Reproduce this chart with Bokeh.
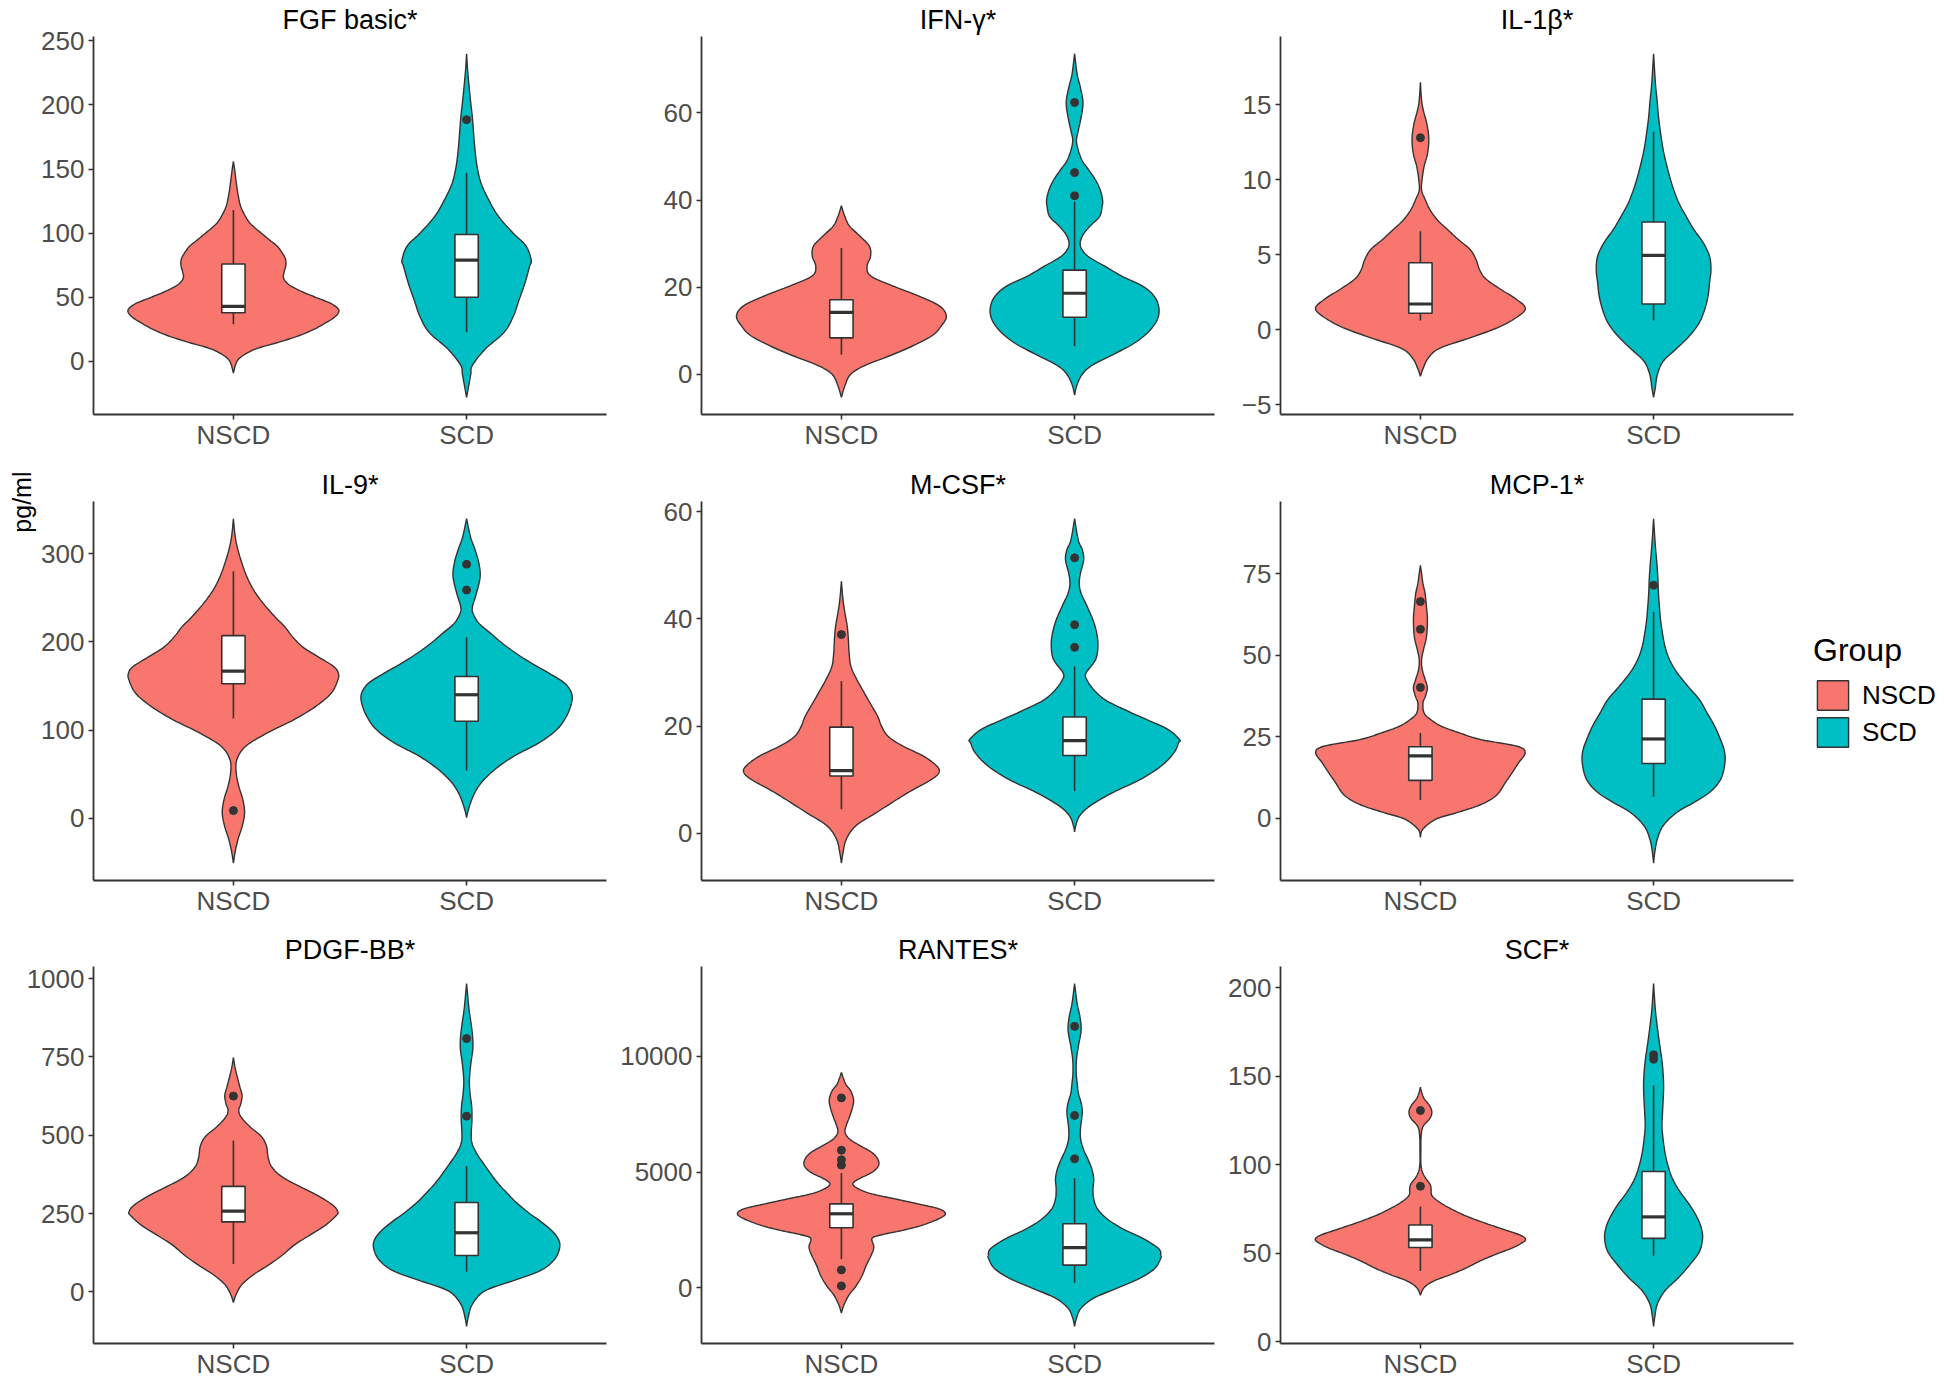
import numpy as np
from bokeh.plotting import figure
from bokeh.models import Range1d, FixedTicker, Legend, LegendItem, Title
from bokeh.layouts import row, column
from bokeh.embed import file_html
from bokeh.resources import INLINE

# ---------------- data ----------------
GROUPS = ["NSCD", "SCD"]
GROUP_COLORS = ["#F8766D", "#00BFC4"]
TITLES = ["FGF basic*", "IFN-γ*", "IL-1β*", "IL-9*", "M-CSF*", "MCP-1*", "PDGF-BB*", "RANTES*", "SCF*"]
Y_LABEL = "pg/ml"
LEGEND_TITLE = "Group"

# y tick labels per panel
FGF_TICKS = [0, 50, 100, 150, 200, 250]
IFN_TICKS = [0, 20, 40, 60]
IL1B_TICKS = [-5, 0, 5, 10, 15]
IL9_TICKS = [0, 100, 200, 300]
MCSF_TICKS = [0, 20, 40, 60]
MCP1_TICKS = [0, 25, 50, 75]
PDGF_TICKS = [0, 250, 500, 750, 1000]
RANTES_TICKS = [0, 5000, 10000]
SCF_TICKS = [0, 50, 100, 150, 200]

# violin outlines: value levels (pg/ml) and half-widths (category units)
FGF_N_Y = [-9, 0, 5, 10, 15, 20, 25, 30, 35, 40, 45, 50, 55, 60, 65, 70, 75, 80, 85, 90, 95, 100, 105, 110, 120, 130, 140, 150, 156]
FGF_N_W = [0, 0.015, 0.045, 0.10, 0.195, 0.28, 0.345, 0.395, 0.437, 0.452, 0.42, 0.353, 0.287, 0.237, 0.215, 0.218, 0.225, 0.223, 0.208, 0.187, 0.153, 0.12, 0.087, 0.062, 0.033, 0.02, 0.012, 0.005, 0]
FGF_S_Y = [-28, -20, -10, -3, 9.6, 22.5, 35, 48, 61, 74, 79, 90, 100, 113, 126, 139, 152, 165, 178, 190, 203, 216, 228, 240]
FGF_S_W = [0, 0.008, 0.018, 0.025, 0.08, 0.16, 0.2, 0.225, 0.25, 0.27, 0.277, 0.255, 0.2, 0.137, 0.095, 0.062, 0.045, 0.036, 0.03, 0.025, 0.017, 0.01, 0.004, 0]

IFN_N_Y = [-5.3, -2.5, 0, 2, 4.3, 6.6, 8.9, 11.2, 13.4, 15.7, 18, 20.3, 22.6, 24.8, 27.1, 29.4, 31.7, 34, 36.2, 38.7]
IFN_N_W = [0, 0.016, 0.04, 0.1, 0.21, 0.31, 0.39, 0.43, 0.45, 0.42, 0.33, 0.22, 0.125, 0.11, 0.125, 0.12, 0.08, 0.035, 0.015, 0]
IFN_S_Y = [-4.8, -2.5, 0, 2, 4.3, 6.6, 8.9, 11.2, 13.4, 15.7, 18, 20.3, 22.6, 24.8, 27.1, 29.4, 31.7, 34, 36.2, 38.5, 40, 42.3, 44.6, 46.8, 49, 51.4, 53.7, 56, 59, 62.4, 65.8, 68.9, 73.6]
IFN_S_W = [0, 0.01, 0.033, 0.074, 0.156, 0.24, 0.30, 0.34, 0.36, 0.36, 0.34, 0.29, 0.2, 0.13, 0.057, 0.025, 0.033, 0.066, 0.107, 0.118, 0.12, 0.11, 0.09, 0.062, 0.033, 0.016, 0.008, 0.016, 0.028, 0.036, 0.025, 0.011, 0]

IL1B_N_Y = [-3.1, -2.6, -1.9, -1.25, -0.6, 0.07, 0.7, 1.4, 2.05, 2.7, 3.4, 4.0, 4.7, 5.35, 6.0, 6.7, 7.3, 8.0, 8.7, 9.3, 10.0, 10.9, 11.7, 12.7, 13.7, 14.6, 15.3, 16.5]
IL1B_N_W = [0, 0.011, 0.033, 0.08, 0.2, 0.32, 0.40, 0.45, 0.41, 0.344, 0.28, 0.254, 0.238, 0.213, 0.164, 0.115, 0.074, 0.041, 0.02, 0.005, 0.007, 0.016, 0.03, 0.036, 0.028, 0.013, 0.005, 0]
IL1B_S_Y = [-4.5, -3.9, -3.0, -2.1, -1.26, -0.37, 0.5, 1.4, 2.3, 3.15, 4.0, 4.9, 5.8, 6.7, 7.55, 8.4, 9.3, 10.2, 11.1, 12.0, 13.1, 14.2, 15.3, 16.4, 18.4]
IL1B_S_W = [0, 0.007, 0.016, 0.041, 0.098, 0.156, 0.197, 0.22, 0.234, 0.24, 0.246, 0.24, 0.213, 0.172, 0.14, 0.11, 0.087, 0.069, 0.054, 0.041, 0.03, 0.021, 0.015, 0.008, 0]

IL9_N_Y = [-51, -38.8, -23.7, -8.7, 6.4, 21.5, 36.5, 51.6, 66.6, 81.7, 96.7, 111.8, 126.8, 141.9, 156.9, 164.5, 172, 183.3, 194.6, 205.9, 217.2, 228.4, 243.5, 258.6, 273.6, 288.7, 303.7, 318.8, 339.5]
IL9_N_W = [0, 0.007, 0.02, 0.038, 0.048, 0.04, 0.023, 0.012, 0.015, 0.053, 0.145, 0.26, 0.353, 0.42, 0.448, 0.45, 0.43, 0.362, 0.295, 0.253, 0.22, 0.178, 0.128, 0.087, 0.058, 0.037, 0.02, 0.008, 0]
IL9_S_Y = [0.8, 10, 25, 40, 55, 70.4, 85.4, 100.5, 115.5, 130.6, 141.9, 153.2, 164.5, 175.8, 187, 198.3, 209.6, 220.9, 232.2, 239.7, 254.8, 273.6, 288.7, 303.7, 318.8, 339.5]
IL9_S_W = [0, 0.008, 0.028, 0.062, 0.12, 0.203, 0.31, 0.387, 0.428, 0.45, 0.45, 0.42, 0.353, 0.278, 0.212, 0.153, 0.103, 0.053, 0.028, 0.025, 0.042, 0.058, 0.053, 0.037, 0.017, 0]

MCSF_N_Y = [-5.6, -3.6, -1.1, 1.4, 3.8, 6.3, 8.2, 10, 11.3, 12.5, 14.4, 16.3, 18.1, 20, 21.8, 23.7, 26.2, 28.7, 31.1, 33.6, 36.1, 38.6, 41.1, 43.5, 47]
MCSF_N_W = [0, 0.007, 0.021, 0.062, 0.148, 0.238, 0.31, 0.385, 0.418, 0.41, 0.352, 0.262, 0.2, 0.172, 0.156, 0.131, 0.098, 0.066, 0.041, 0.033, 0.03, 0.025, 0.015, 0.007, 0]
MCSF_S_Y = [0.25, 1.4, 3.2, 5.1, 7.6, 10, 12.5, 15, 16.9, 17.5, 19.4, 21.2, 23.1, 24.9, 26.8, 28.7, 29.9, 32.4, 34.9, 37.3, 39.8, 42.3, 44.8, 46.6, 48.5, 51, 52.9, 54.7, 58.7]
MCSF_S_W = [0, 0.005, 0.021, 0.066, 0.164, 0.28, 0.37, 0.426, 0.446, 0.45, 0.4, 0.31, 0.213, 0.131, 0.082, 0.052, 0.049, 0.09, 0.1, 0.095, 0.079, 0.054, 0.028, 0.02, 0.025, 0.039, 0.033, 0.016, 0]

MCP1_N_Y = [-5.9, -3.4, -0.3, 1.7, 3.8, 5.8, 7.8, 10.9, 13.9, 17, 20, 22, 24.1, 26.1, 28.2, 30.2, 32.2, 35.3, 37.3, 39.9, 42.4, 45.5, 48.5, 51.6, 55.6, 60.7, 64.8, 68.9, 71.9, 75, 77.5]
MCP1_N_W = [0, 0.01, 0.066, 0.156, 0.246, 0.303, 0.336, 0.364, 0.393, 0.421, 0.449, 0.418, 0.26, 0.17, 0.09, 0.045, 0.016, 0.011, 0.021, 0.03, 0.021, 0.008, 0.005, 0.013, 0.026, 0.03, 0.026, 0.02, 0.011, 0.005, 0]
MCP1_S_Y = [-13.8, -10.5, -6.4, -2.3, 1.7, 4.8, 7.8, 10.9, 13.9, 18, 21.1, 24.1, 28.2, 32.2, 36.3, 40.4, 44.5, 48.5, 52.6, 56.7, 60.7, 64.8, 68.9, 74, 79, 84, 91.8]
MCP1_S_W = [0, 0.005, 0.016, 0.041, 0.098, 0.172, 0.238, 0.279, 0.298, 0.307, 0.302, 0.287, 0.262, 0.23, 0.197, 0.148, 0.102, 0.069, 0.049, 0.038, 0.03, 0.025, 0.021, 0.018, 0.013, 0.007, 0]

PDGF_N_Y = [-33.6, -7.3, 24, 55.6, 87, 118.5, 150, 181.5, 213, 244.4, 255, 276, 307.4, 338.9, 370.3, 401.8, 433.3, 464.8, 496.2, 527.7, 559.2, 580, 601, 627.4, 653.6, 685, 716.5, 748]
PDGF_N_W = [0, 0.012, 0.037, 0.087, 0.153, 0.212, 0.262, 0.328, 0.395, 0.442, 0.448, 0.428, 0.362, 0.278, 0.203, 0.162, 0.148, 0.142, 0.12, 0.07, 0.032, 0.023, 0.032, 0.037, 0.028, 0.017, 0.007, 0]
PDGF_S_Y = [-110, -80.8, -38.8, 3.1, 34.6, 66, 97.6, 129, 160.5, 192, 223.5, 255, 286.4, 317.9, 349.3, 380.8, 412.3, 443.8, 475.2, 506.7, 548.7, 590.6, 632.6, 674.6, 727, 779.5, 821.5, 863.4, 905.4, 984]
PDGF_S_W = [0, 0.007, 0.025, 0.078, 0.195, 0.312, 0.37, 0.395, 0.398, 0.37, 0.32, 0.262, 0.212, 0.17, 0.132, 0.1, 0.07, 0.042, 0.023, 0.02, 0.023, 0.022, 0.015, 0.012, 0.018, 0.027, 0.025, 0.018, 0.01, 0]

RANTES_N_Y = [-1103, -745, -315, 115, 544, 974, 1404, 1762, 2120, 2264, 2479, 2693, 2980, 3195, 3410, 3625, 3840, 4054, 4269, 4484, 4699, 4986, 5272, 5559, 5845, 6132, 6418, 6705, 6991, 7421, 7851, 8138, 8496, 8782, 9069, 9312]
RANTES_N_W = [0, 0.011, 0.033, 0.066, 0.09, 0.107, 0.128, 0.139, 0.131, 0.164, 0.262, 0.344, 0.418, 0.446, 0.418, 0.328, 0.23, 0.131, 0.074, 0.049, 0.074, 0.131, 0.159, 0.156, 0.131, 0.082, 0.036, 0.016, 0.02, 0.036, 0.049, 0.052, 0.041, 0.02, 0.008, 0]
RANTES_S_Y = [-1676, -1318, -888, -458, -29, 401, 831, 1261, 1404, 1691, 2120, 2550, 2980, 3410, 3840, 4269, 4699, 5129, 5559, 5989, 6418, 6848, 7278, 7636, 7994, 8424, 8854, 9284, 9857, 10430, 11146, 11719, 12292, 13152]
RANTES_S_W = [0, 0.008, 0.028, 0.082, 0.18, 0.279, 0.344, 0.369, 0.37, 0.36, 0.295, 0.205, 0.139, 0.098, 0.082, 0.079, 0.082, 0.074, 0.057, 0.038, 0.026, 0.025, 0.03, 0.033, 0.028, 0.016, 0.011, 0.007, 0.008, 0.016, 0.028, 0.023, 0.011, 0]

SCF_N_Y = [26.3, 30.6, 34.3, 38, 41.7, 45.5, 49.2, 52.9, 55.7, 57.9, 60.3, 64, 67.7, 71.4, 75.1, 78.8, 82.6, 86.3, 89, 92.8, 96.5, 101, 108.5, 116, 121.5, 126.2, 129.9, 133.6, 137.3, 141, 143.8]
SCF_N_W = [0, 0.016, 0.057, 0.131, 0.197, 0.254, 0.32, 0.393, 0.434, 0.451, 0.426, 0.344, 0.262, 0.189, 0.131, 0.082, 0.049, 0.046, 0.041, 0.02, 0.007, 0.002, 0.002, 0.003, 0.011, 0.041, 0.049, 0.038, 0.016, 0.005, 0]
SCF_S_Y = [8.7, 13.9, 21.3, 28.8, 36.2, 43.6, 51, 58.4, 64, 69.6, 77, 84.4, 91.8, 99.3, 106.7, 114.1, 121.5, 128.9, 136.4, 143.8, 151.2, 158.6, 166, 173.5, 180.9, 188.3, 202.2]
SCF_S_W = [0, 0.005, 0.016, 0.049, 0.107, 0.156, 0.197, 0.21, 0.205, 0.189, 0.156, 0.115, 0.082, 0.062, 0.049, 0.041, 0.036, 0.038, 0.041, 0.043, 0.041, 0.036, 0.028, 0.02, 0.013, 0.007, 0]

# box statistics: [lower whisker, Q1, median, Q3, upper whisker]
FGF_N_BOX = [29, 38, 43, 76, 118]
FGF_S_BOX = [23, 50, 79, 99, 147]
IFN_N_BOX = [4.5, 8.35, 14.2, 17.1, 29]
IFN_S_BOX = [6.4, 13.1, 18.6, 23.9, 39.6]
IL1B_N_BOX = [0.62, 1.1, 1.72, 4.47, 6.56]
IL1B_S_BOX = [0.62, 1.72, 4.96, 7.18, 13.2]
IL9_N_BOX = [113, 152.4, 166.7, 207, 280]
IL9_S_BOX = [54.2, 109.9, 140, 160.7, 205]
MCSF_N_BOX = [4.5, 10.7, 11.7, 19.8, 28.4]
MCSF_S_BOX = [7.9, 14.5, 17.3, 21.7, 31.1]
MCP1_N_BOX = [5.6, 11.6, 19.1, 21.9, 26.1]
MCP1_S_BOX = [6.6, 16.8, 24.3, 36.5, 63.3]
PDGF_N_BOX = [89.2, 223.5, 258, 336.8, 483.6]
PDGF_S_BOX = [64, 116.4, 188.8, 285.4, 401.8]
RANTES_N_BOX = [1232, 2593, 3195, 3625, 4957]
RANTES_S_BOX = [215, 974, 1734, 2765, 4728]
SCF_N_BOX = [39.9, 53.2, 57.5, 65.9, 76.4]
SCF_S_BOX = [48.6, 58.4, 70.5, 96.1, 144.7]

# outliers
FGF_N_OUT = []
FGF_S_OUT = [188.5]
IFN_N_OUT = []
IFN_S_OUT = [41.0, 46.3, 62.4]
IL1B_N_OUT = [12.8]
IL1B_S_OUT = []
IL9_N_OUT = [8.7]
IL9_S_OUT = [258.7, 287.8]
MCSF_N_OUT = [37.1]
MCSF_S_OUT = [34.7, 38.9, 51.4]
MCP1_N_OUT = [40.1, 57.9, 66.4]
MCP1_S_OUT = [71.4]
PDGF_N_OUT = [625]
PDGF_S_OUT = [561, 808.6]
RANTES_N_OUT = [72, 766, 5300, 5530, 5945, 8209]
RANTES_S_OUT = [5573, 7450, 11304]
SCF_N_OUT = [87.8, 130.6]
SCF_S_OUT = [159.5, 162]

PANEL_DATA = [
    (FGF_TICKS, (FGF_N_Y, FGF_N_W, FGF_N_BOX, FGF_N_OUT), (FGF_S_Y, FGF_S_W, FGF_S_BOX, FGF_S_OUT)),
    (IFN_TICKS, (IFN_N_Y, IFN_N_W, IFN_N_BOX, IFN_N_OUT), (IFN_S_Y, IFN_S_W, IFN_S_BOX, IFN_S_OUT)),
    (IL1B_TICKS, (IL1B_N_Y, IL1B_N_W, IL1B_N_BOX, IL1B_N_OUT), (IL1B_S_Y, IL1B_S_W, IL1B_S_BOX, IL1B_S_OUT)),
    (IL9_TICKS, (IL9_N_Y, IL9_N_W, IL9_N_BOX, IL9_N_OUT), (IL9_S_Y, IL9_S_W, IL9_S_BOX, IL9_S_OUT)),
    (MCSF_TICKS, (MCSF_N_Y, MCSF_N_W, MCSF_N_BOX, MCSF_N_OUT), (MCSF_S_Y, MCSF_S_W, MCSF_S_BOX, MCSF_S_OUT)),
    (MCP1_TICKS, (MCP1_N_Y, MCP1_N_W, MCP1_N_BOX, MCP1_N_OUT), (MCP1_S_Y, MCP1_S_W, MCP1_S_BOX, MCP1_S_OUT)),
    (PDGF_TICKS, (PDGF_N_Y, PDGF_N_W, PDGF_N_BOX, PDGF_N_OUT), (PDGF_S_Y, PDGF_S_W, PDGF_S_BOX, PDGF_S_OUT)),
    (RANTES_TICKS, (RANTES_N_Y, RANTES_N_W, RANTES_N_BOX, RANTES_N_OUT), (RANTES_S_Y, RANTES_S_W, RANTES_S_BOX, RANTES_S_OUT)),
    (SCF_TICKS, (SCF_N_Y, SCF_N_W, SCF_N_BOX, SCF_N_OUT), (SCF_S_Y, SCF_S_W, SCF_S_BOX, SCF_S_OUT)),
]

# ---------------- styling / layout ----------------
FONT = "Liberation Sans"
INK = "#333333"
TICK_GREY = "#4D4D4D"
FRAME_W = 513
FRAME_H = [378, 379, 377]
LEFT_BORDER = [93, 85, 56]
RIGHT_BORDER = [10, 10, 10]
TOP_BORDER = [36, 49, 36]
BOTTOM_BORDER = [37, 50, 30]
BOX_HALF = 0.05


def smooth_outline(ws, ys, n=8):
    """Catmull-Rom smoothing of the drawn outline (rendering only)."""
    P = np.column_stack([np.asarray(ws, float), np.asarray(ys, float)])
    P = np.vstack([P[0], P, P[-1]])
    out = []
    for i in range(1, len(P) - 2):
        p0, p1, p2, p3 = P[i - 1], P[i], P[i + 1], P[i + 2]
        for t in np.linspace(0, 1, n, endpoint=False):
            t2, t3 = t * t, t * t * t
            out.append(0.5 * (2 * p1 + (-p0 + p2) * t + (2 * p0 - 5 * p1 + 4 * p2 - p3) * t2
                              + (-p0 + 3 * p1 - 3 * p2 + p3) * t3))
    out.append(P[-2])
    arr = np.array(out)
    return np.clip(arr[:, 0], 0, None), arr[:, 1]


figs = []
legend_renderers = None
for idx, (title, (ticks, *groups)) in enumerate(zip(TITLES, PANEL_DATA)):
    r, c = divmod(idx, 3)
    all_y = np.concatenate([np.asarray(g[0], float) for g in groups])
    lo, hi = all_y.min(), all_y.max()
    pad = 0.05 * (hi - lo)
    p = figure(frame_width=FRAME_W, frame_height=FRAME_H[r],
               x_range=Range1d(0.4, 2.6), y_range=Range1d(lo - pad, hi + pad),
               output_backend="svg", toolbar_location=None,
               min_border_left=LEFT_BORDER[c], min_border_right=RIGHT_BORDER[c],
               min_border_top=TOP_BORDER[r], min_border_bottom=BOTTOM_BORDER[r])
    p.outline_line_color = None
    p.xgrid.visible = False
    p.ygrid.visible = False
    p.background_fill_color = "white"
    p.border_fill_color = "white"

    p.title.text = title
    p.title.align = "center"
    p.title.text_font = FONT
    p.title.text_font_size = "27px"
    p.title.text_font_style = "normal"
    p.title.text_color = "black"
    p.title.standoff = 3

    p.xaxis.ticker = FixedTicker(ticks=[1, 2])
    p.xaxis.major_label_overrides = {1: GROUPS[0], 2: GROUPS[1]}
    p.yaxis.ticker = FixedTicker(ticks=ticks)
    for ax in (p.xaxis, p.yaxis):
        ax.axis_line_color = INK
        ax.axis_line_width = 1.8
        ax.major_tick_line_color = INK
        ax.major_tick_line_width = 1.6
        ax.major_tick_out = 5
        ax.major_tick_in = 0
        ax.minor_tick_line_color = None
        ax.major_label_text_font = FONT
        ax.major_label_text_color = TICK_GREY
    p.xaxis.major_label_text_font_size = "26px"
    p.yaxis.major_label_text_font_size = "26px"
    p.xaxis.major_label_standoff = 0
    p.yaxis.major_label_standoff = 4

    rends = []
    for gi, (ys, ws, box, outs) in enumerate(groups):
        cx = gi + 1
        sw, sy = smooth_outline(ws, ys)
        xs = np.concatenate([cx - sw, (cx + sw)[::-1]])
        yy = np.concatenate([sy, sy[::-1]])
        rv = p.patch(xs, yy, fill_color=GROUP_COLORS[gi], line_color=INK, line_width=1.4)
        rends.append(rv)
        wlo, q1, med, q3, whi = box
        p.segment(x0=[cx, cx], y0=[whi, q1], x1=[cx, cx], y1=[q3, wlo], line_color=INK, line_width=1.6)
        p.quad(left=[cx - BOX_HALF], right=[cx + BOX_HALF], bottom=[q1], top=[q3],
               fill_color="white", line_color=INK, line_width=1.6)
        p.segment(x0=[cx - BOX_HALF], y0=[med], x1=[cx + BOX_HALF], y1=[med], line_color=INK, line_width=3.2)
        if outs:
            p.scatter(x=[cx] * len(outs), y=outs, size=8, fill_color=INK, line_color=INK)
    if idx == 5:
        legend_renderers = rends
    figs.append(p)

# shared y-axis title, placed in the left border of the IL-9 panel
ylab = Title(text=Y_LABEL, align="right", vertical_align="middle", offset=-30, standoff=4,
             text_font=FONT, text_font_size="25px", text_font_style="normal", text_color="black")
figs[3].add_layout(ylab, "left")

legend = Legend(items=[LegendItem(label=GROUPS[0], renderers=[legend_renderers[0]]),
                       LegendItem(label=GROUPS[1], renderers=[legend_renderers[1]])],
                title=LEGEND_TITLE, location="center_left", orientation="vertical")
legend.title_text_font = FONT
legend.title_text_font_size = "32px"
legend.title_text_font_style = "normal"
legend.title_text_color = "black"
legend.title_standoff = 8
legend.label_text_font = FONT
legend.label_text_font_size = "26px"
legend.label_text_color = "black"
legend.glyph_width = 39
legend.glyph_height = 37
legend.spacing = -7
legend.padding = 0
legend.margin = 20
legend.label_standoff = 10
legend.border_line_color = None
legend.background_fill_alpha = 0
figs[5].add_layout(legend, "right")

layout = column(row(*figs[0:3]), row(*figs[3:6]), row(*figs[6:9]))

html = file_html(layout, INLINE)
html = html.replace("<head>", "<head><style>html,body{margin:0;overflow:hidden;}</style>", 1)
open("out.html", "w").write(html)
